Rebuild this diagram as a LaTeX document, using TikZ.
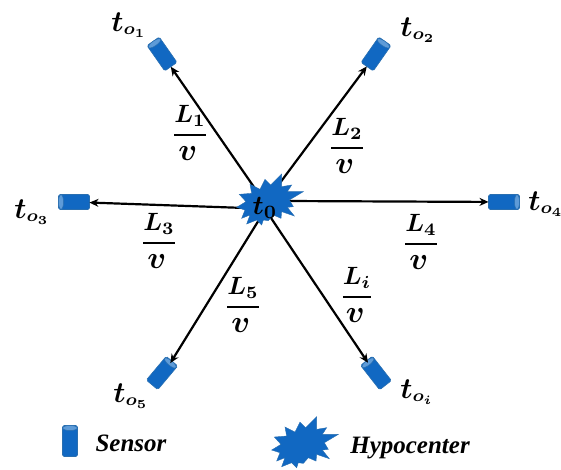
\documentclass[tikz,border=0pt]{standalone}
\usepackage{amsmath}
\usepackage[no-math]{fontspec}
\newfontfamily\legendfont{Liberation Serif}
\usetikzlibrary{arrows.meta,shapes.geometric}
\definecolor{sensorblue}{HTML}{1168C2}
\definecolor{sensoredge}{HTML}{2A6FB0}
\definecolor{sensorend}{HTML}{5E9BD8}
\tikzset{
  x=1pt,y=-1pt,
  sensorbox/.style={rectangle,draw=sensoredge,fill=sensorblue,line width=.6pt,rounded corners=1.5pt,
    minimum width=31pt,minimum height=15pt,inner sep=0pt,outer sep=0pt},
  sensorcap/.style={ellipse,draw=sensoredge,fill=sensorend,line width=.5pt,anchor=east,
    minimum width=5pt,minimum height=14.5pt,inner sep=0pt,outer sep=0pt},
  ray/.style={draw=black,line width=2.2pt,-{Stealth[length=9pt,width=8pt]}},
  burst/.style={fill=sensorblue,draw=sensoredge,line width=.4pt},
  mathlabel/.style={scale=2.5,inner sep=0pt,text=black},
  timelabel/.style={scale=2.45,inner sep=0pt,text=black},
  legendtext/.style={inner sep=0pt,font=\legendfont\fontsize{25}{25}\selectfont\bfseries\itshape},
}
\newcommand{\burstpath}{(195,88) -- (212,105) -- (245,72) -- (245,110) -- (275,105) -- (262,125) -- (310,125) -- (268,150) -- (280,170) -- (262,172) -- (283,198) -- (245,185) -- (243,205) -- (220,195) -- (205,212) -- (190,210) -- (185,225) -- (170,210) -- (140,222) -- (150,195) -- (125,205) -- (135,180) -- (110,172) -- (138,155) -- (118,133) -- (155,130) -- (150,103) -- (180,118) -- cycle}
\newcommand{\travel}[1]{\genfrac{}{}{0.8pt}{0}{#1}{\scalebox{1.25}{$v$}}}
\newcommand{\arrival}[1]{\scalebox{1.2}{$t$}_{o_{#1}}}
\begin{document}
\begin{tikzpicture}
\useasboundingbox (0,0) rectangle (561,470);
% sensors
\node[sensorbox,rotate=125] (s1) at (162,54) {};
\node[sensorbox,rotate=55] (s2) at (376,54) {};
\node[sensorbox,rotate=180] (s3) at (74,202) {};
\node[sensorbox,rotate=0] (s4) at (504,202) {};
\node[sensorbox,rotate=50] (s5) at (162,373) {};
\node[sensorbox,rotate=128] (s6) at (376,373) {};
\node[sensorbox,rotate=90] (s7) at (70,441) {};
\node[sensorcap,rotate=125] (c1) at (s1.east) {};
\node[sensorcap,rotate=55] (c2) at (s2.east) {};
\node[sensorcap,rotate=180] (c3) at (s3.east) {};
\node[sensorcap,rotate=0] (c4) at (s4.east) {};
\node[sensorcap,rotate=50] (c5) at (s5.east) {};
\node[sensorcap,rotate=128] (c6) at (s6.east) {};
\node[sensorcap,rotate=90] (c7) at (s7.east) {};
% hypocenter centre and ray starts
\coordinate (h) at (265,203);
\coordinate (h3) at (245,208);
\coordinate (h4) at (285,201);
\coordinate (h5) at (262,215);
\coordinate (h6) at (269,215);
\draw[ray] (h) -- (s1);
\draw[ray] (h) -- (s2);
\draw[ray] (h3) -- (s3);
\draw[ray] (h4) -- (s4);
\draw[ray] (h5) -- (c5.center);
\draw[ray] (h6) -- (c6.center);
% bursts
\begin{scope}[shift={(200,150)},x=.3333pt,y=-.3333pt]
\draw[burst] \burstpath;
\end{scope}
\begin{scope}[shift={(235,392.7)},x=.3333pt,y=-.3333pt]
\draw[burst] \burstpath;
\end{scope}
% time labels
\boldmath
\node[timelabel,scale=1.1] (t0) at (265,208) {$t_0$};
\node[timelabel] (t1) at (129,25) {$\arrival{1}$};
\node[timelabel] (t2) at (418,30) {$\arrival{2}$};
\node[timelabel] (t3) at (32,212) {$\arrival{3}$};
\node[timelabel] (t4) at (546,204) {$\arrival{4}$};
\node[timelabel] (t5) at (131,396) {$\arrival{5}$};
\node[timelabel] (t6) at (417,392) {$\arrival{i}$};
% travel-time labels
\node[mathlabel] (f1) at (190,133) {$\travel{L_1}$};
\node[mathlabel] (f2) at (347,146) {$\travel{L_2}$};
\node[mathlabel] (f3) at (159,241) {$\travel{L_3}$};
\node[mathlabel] (f4) at (421,242) {$\travel{L_4}$};
\node[mathlabel] (f5) at (243,305) {$\travel{L_5}$};
\node[mathlabel] (f6) at (357,295) {$\travel{L_i}$};
% legend
\node[legendtext] (ls) at (131,443) {Sensor};
\node[legendtext] (lh) at (410,448) {Hypocenter};
\end{tikzpicture}
\end{document}
